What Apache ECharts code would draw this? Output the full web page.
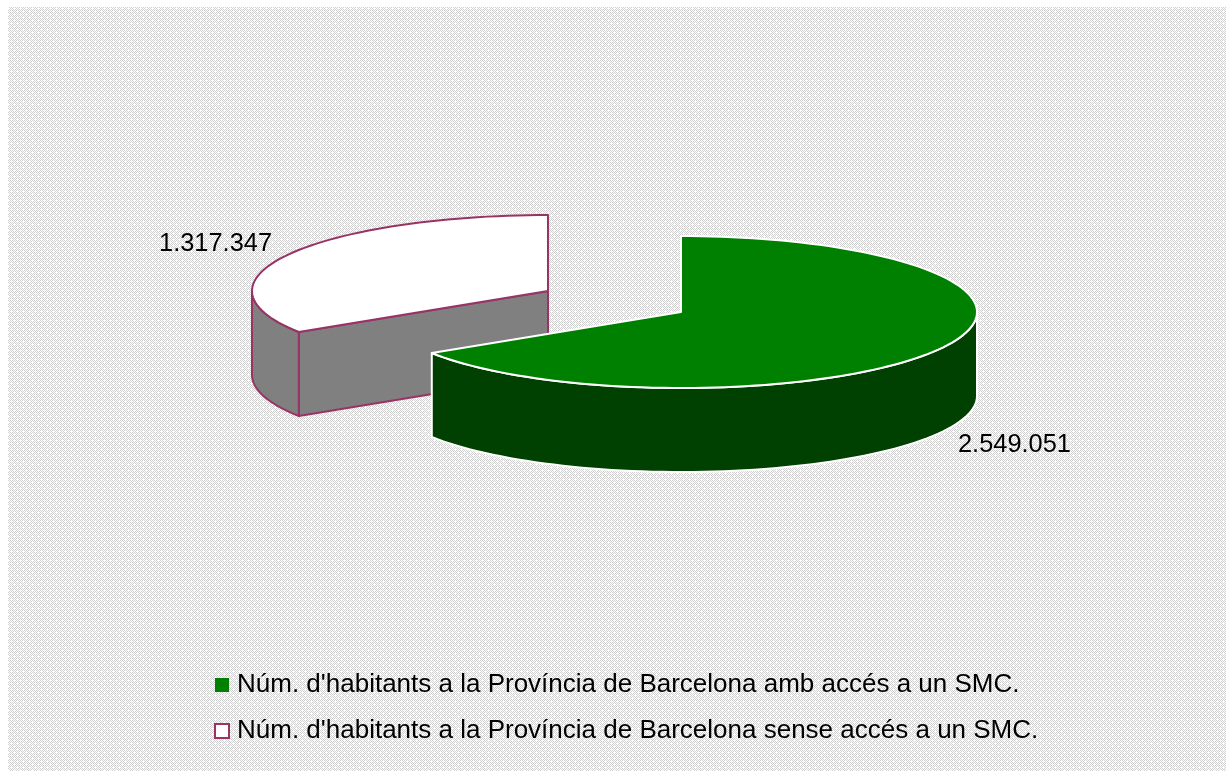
<!DOCTYPE html>
<html>
<head>
<meta charset="utf-8">
<style>
  html, body { margin: 0; padding: 0; background: #fff; }
  #chart { width: 1226px; height: 771px; }
</style>
<script src="https://cdn.jsdelivr.net/npm/echarts@6/dist/echarts.min.js"></script>
</head>
<body>
<div id="chart"></div>
<script>
// data
const seriesNames = [
  "Núm. d'habitants a la Província de Barcelona amb accés a un SMC.",
  "Núm. d'habitants a la Província de Barcelona sense accés a un SMC."
]
const seriesValues = [2549051, 1317347]

// layout of the tilted pie, pixels
const pie = { rx: 296, ry: 76, depth: 84 }
const sliceCenters = [[681, 312], [548, 291]]
const labelPositions = [[958, 445, 'left'], [272, 244, 'right']]
const topColors = ['#008000', '#ffffff']
const wallColors = ['#004000', '#808080']
const edgeColors = ['#ffffff', '#993366']
const edgeWidths = [2, 2]

const total = seriesValues.reduce((a, b) => a + b, 0)

// 1.317.347 style thousands
function formatValue(v) {
  return String(v).replace(/\B(?=(\d{3})+$)/g, '.')
}

// angle in degrees, clockwise from the top
function rim(c, deg, drop) {
  const t = (deg * Math.PI) / 180
  return [c[0] + pie.rx * Math.sin(t), c[1] - pie.ry * Math.cos(t) + drop]
}

function arcPoints(c, from, to, drop) {
  const pts = []
  const n = Math.max(2, Math.ceil(Math.abs(to - from) / 2))
  for (let i = 0; i <= n; i++) pts.push(rim(c, from + ((to - from) * i) / n, drop))
  return pts
}

function renderSlice(params) {
  const i = params.seriesIndex
  const before = seriesValues.slice(0, i).reduce((a, b) => a + b, 0)
  const start = (before / total) * 360
  const end = ((before + seriesValues[i]) / total) * 360
  const c = sliceCenters[i]
  const style = { stroke: edgeColors[i], lineWidth: edgeWidths[i], lineJoin: 'round' }
  const children = []

  // cut faces that look towards the viewer
  ;[[start, start - 90], [end, end + 90]].forEach(([deg, normal]) => {
    if (Math.cos((normal * Math.PI) / 180) < -0.001) {
      const p = rim(c, deg, 0)
      children.push({
        type: 'polygon',
        shape: { points: [c, p, [p[0], p[1] + pie.depth], [c[0], c[1] + pie.depth]] },
        style: { ...style, fill: wallColors[i] }
      })
    }
  })

  // outer wall, front half only
  const from = Math.max(start, 90)
  const to = Math.min(end, 270)
  if (to > from) {
    children.push({
      type: 'polygon',
      shape: { points: arcPoints(c, from, to, 0).concat(arcPoints(c, to, from, pie.depth)) },
      style: { ...style, fill: wallColors[i] }
    })
  }

  // top face
  children.push({
    type: 'polygon',
    shape: { points: [c].concat(arcPoints(c, start, end, 0)) },
    style: { ...style, fill: topColors[i] }
  })

  const lp = labelPositions[i]
  children.push({
    type: 'text',
    x: lp[0],
    y: lp[1],
    style: {
      text: formatValue(seriesValues[i]),
      fill: '#000',
      font: '25.4px "Liberation Sans", Arial, sans-serif',
      align: lp[2],
      verticalAlign: 'middle'
    }
  })
  return { type: 'group', children }
}

// dotted chart area fill
function makeTile() {
  const tile = document.createElement('canvas')
  tile.width = 6
  tile.height = 6
  const ctx = tile.getContext('2d')
  ctx.fillStyle = '#fff'
  ctx.fillRect(0, 0, 6, 6)
  ctx.fillStyle = '#d0d0d0'
  for (let y = 0; y < 6; y++) {
    for (let x = 0; x < 6; x++) {
      if ((x + y) % 2 === 0 && (x % 3 !== 2 || y % 3 !== 2)) ctx.fillRect(x, y, 1, 1)
    }
  }
  return tile
}

const chart = echarts.init(document.getElementById('chart'), null, { renderer: 'canvas' })
chart.setOption({
  animation: false,
  backgroundColor: '#fff',
  graphic: [{
    type: 'rect',
    z: -10,
    shape: { x: 8, y: 7, width: 1218, height: 764 },
    style: { fill: { image: makeTile(), repeat: 'repeat' } },
    silent: true
  }],
  legend: {
    orient: 'vertical',
    left: 209,
    top: 667,
    itemWidth: 14,
    itemHeight: 14,
    itemGap: 20,
    align: 'left',
    selectedMode: false,
    textStyle: {
      fontSize: 26,
      fontFamily: '"Liberation Sans", Arial, sans-serif',
      color: '#000',
      padding: [0, 0, 0, 3]
    },
    data: [
      { name: seriesNames[0], icon: 'rect', itemStyle: { color: topColors[0], borderWidth: 0 } },
      { name: seriesNames[1], icon: 'rect', itemStyle: { color: topColors[1], borderColor: edgeColors[1], borderWidth: 2 } }
    ]
  },
  series: seriesNames.map((name, i) => ({
    type: 'custom',
    name,
    coordinateSystem: 'none',
    z: i === 0 ? 3 : 2,
    silent: true,
    itemStyle: { color: topColors[i] },
    renderItem: renderSlice,
    data: [seriesValues[i]]
  }))
})
</script>
</body>
</html>
